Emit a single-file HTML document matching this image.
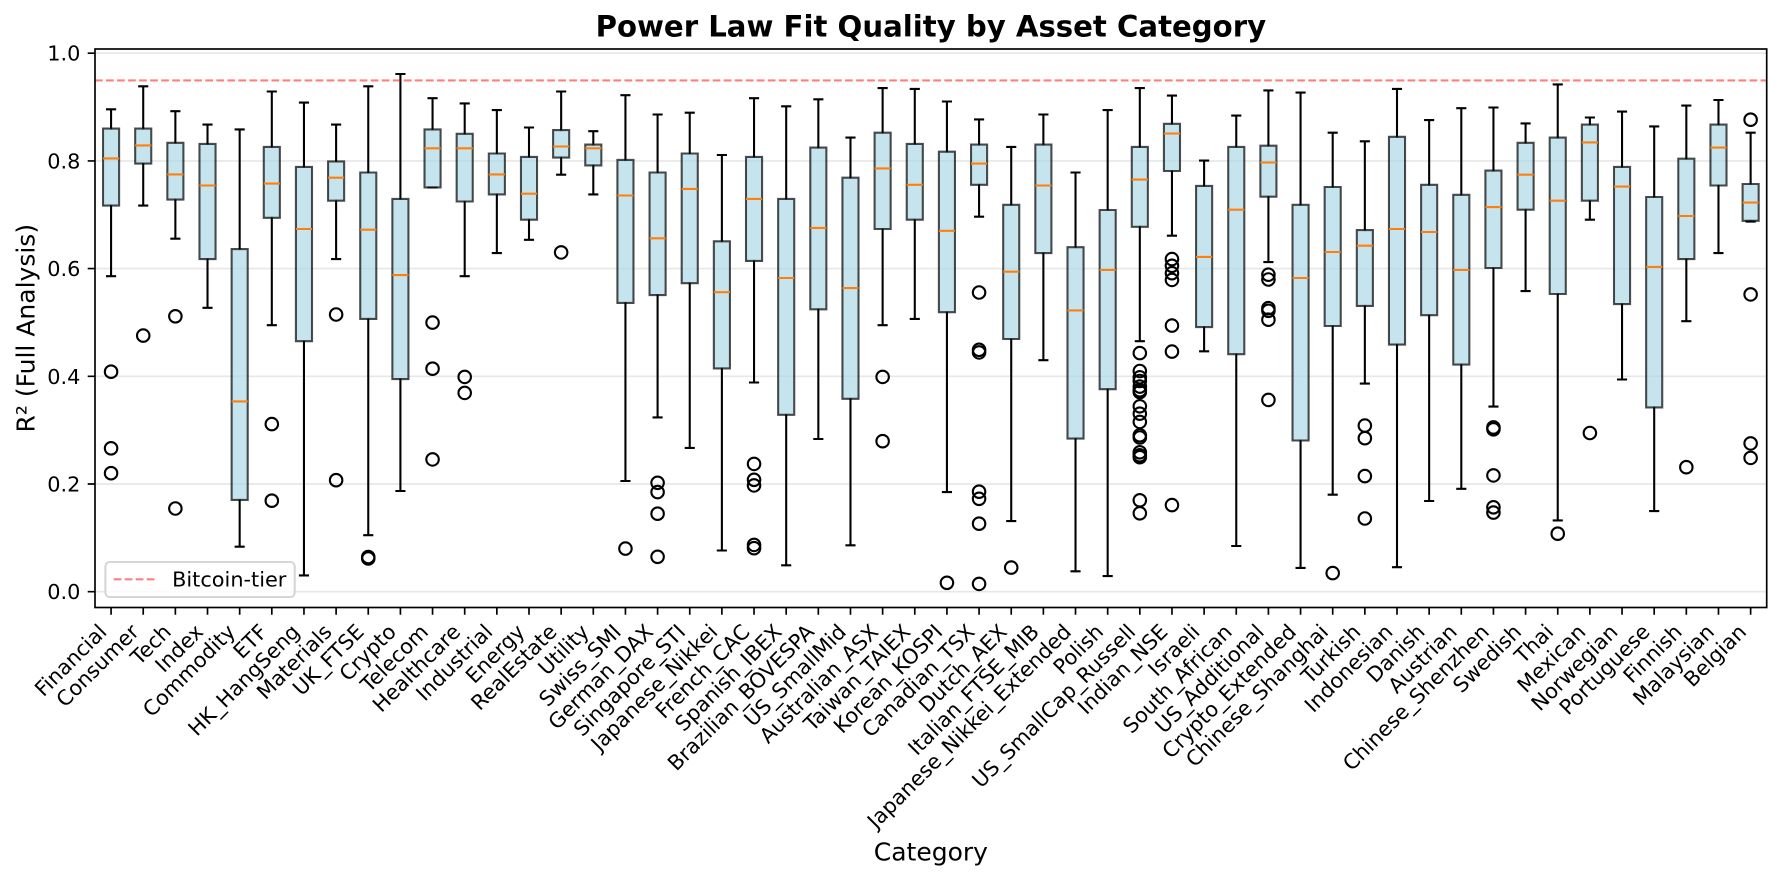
<!DOCTYPE html>
<html><head><meta charset="utf-8"><style>
html,body{margin:0;padding:0;background:#fff}
svg{display:block}
text{font-family:"DejaVu Sans","Liberation Sans",sans-serif;fill:#000}
.w{stroke:#000;stroke-width:2.08;fill:none;stroke-linecap:square}
.b{fill:#add8e6;fill-opacity:.7;stroke:#000;stroke-opacity:.7;stroke-width:2.08}
.m{stroke:#ff7f0e;stroke-width:2.08;fill:none}
circle{fill:none;stroke:#000;stroke-width:2.08}
.g{stroke:#b0b0b0;stroke-opacity:.3;stroke-width:1.67}
.tk{stroke:#000;stroke-width:1.67}
.xl{font-size:20.83px}
</style></head><body>
<svg width="1782" height="881" viewBox="0 0 1782 881" xmlns="http://www.w3.org/2000/svg">
<rect width="1782" height="881" fill="#fff"/>
<!-- grid -->
<path class="g" d="M95 591.7H1766.7M95 484H1766.7M95 376.3H1766.7M95 268.6H1766.7M95 160.9H1766.7M95 53.2H1766.7"/>
<!-- boxes -->
<g transform="translate(111.07)"><path class="w" d="M0 205.6V276.2M-4.02 276.2H4.02M0 128.6V109.3M-4.02 109.3H4.02"/><path class="b" d="M-8.04 128.6H8.04V205.6H-8.04Z"/><path class="m" d="M-8.04 158.4H8.04"/><circle cy="371.7" r="6.25"/><circle cy="448.3" r="6.25"/><circle cy="473.2" r="6.25"/></g>
<g transform="translate(143.22)"><path class="w" d="M0 163.6V205.6M-4.02 205.6H4.02M0 128.6V86.3M-4.02 86.3H4.02"/><path class="b" d="M-8.04 128.6H8.04V163.6H-8.04Z"/><path class="m" d="M-8.04 145.4H8.04"/><circle cy="335.6" r="6.25"/></g>
<g transform="translate(175.37)"><path class="w" d="M0 199.6V238.7M-4.02 238.7H4.02M0 142.8V111.2M-4.02 111.2H4.02"/><path class="b" d="M-8.04 142.8H8.04V199.6H-8.04Z"/><path class="m" d="M-8.04 174.4H8.04"/><circle cy="316.3" r="6.25"/><circle cy="508.5" r="6.25"/></g>
<g transform="translate(207.52)"><path class="w" d="M0 259.1V307.8M-4.02 307.8H4.02M0 143.9V124.6M-4.02 124.6H4.02"/><path class="b" d="M-8.04 143.9H8.04V259.1H-8.04Z"/><path class="m" d="M-8.04 185.5H8.04"/></g>
<g transform="translate(239.67)"><path class="w" d="M0 499.9V546.7M-4.02 546.7H4.02M0 249.1V129.4M-4.02 129.4H4.02"/><path class="b" d="M-8.04 249.1H8.04V499.9H-8.04Z"/><path class="m" d="M-8.04 401.4H8.04"/></g>
<g transform="translate(271.81)"><path class="w" d="M0 217.8V325.2M-4.02 325.2H4.02M0 146.9V91.5M-4.02 91.5H4.02"/><path class="b" d="M-8.04 146.9H8.04V217.8H-8.04Z"/><path class="m" d="M-8.04 183.6H8.04"/><circle cy="424.1" r="6.25"/><circle cy="500.7" r="6.25"/></g>
<g transform="translate(303.96)"><path class="w" d="M0 341.2V575.4M-4.02 575.4H4.02M0 166.9V102.6M-4.02 102.6H4.02"/><path class="b" d="M-8.04 166.9H8.04V341.2H-8.04Z"/><path class="m" d="M-8.04 229H8.04"/></g>
<g transform="translate(336.11)"><path class="w" d="M0 200.7V259.1M-4.02 259.1H4.02M0 161.4V124.6M-4.02 124.6H4.02"/><path class="b" d="M-8.04 161.4H8.04V200.7H-8.04Z"/><path class="m" d="M-8.04 177.7H8.04"/><circle cy="314.5" r="6.25"/><circle cy="480.2" r="6.25"/></g>
<g transform="translate(368.26)"><path class="w" d="M0 318.9V535.2M-4.02 535.2H4.02M0 172.5V86.3M-4.02 86.3H4.02"/><path class="b" d="M-8.04 172.5H8.04V318.9H-8.04Z"/><path class="m" d="M-8.04 229.7H8.04"/><circle cy="557" r="6.25"/><circle cy="558.5" r="6.25"/></g>
<g transform="translate(400.41)"><path class="w" d="M0 379.1V491M-4.02 491H4.02M0 198.9V74M-4.02 74H4.02"/><path class="b" d="M-8.04 198.9H8.04V379.1H-8.04Z"/><path class="m" d="M-8.04 275.1H8.04"/></g>
<g transform="translate(432.55)"><path class="w" d="M0 187.4V187.4M-4.02 187.4H4.02M0 129.4V98.2M-4.02 98.2H4.02"/><path class="b" d="M-8.04 129.4H8.04V187.4H-8.04Z"/><path class="m" d="M-8.04 148.3H8.04"/><circle cy="322.6" r="6.25"/><circle cy="368.7" r="6.25"/><circle cy="459.4" r="6.25"/></g>
<g transform="translate(464.70)"><path class="w" d="M0 201.5V276.2M-4.02 276.2H4.02M0 133.8V103.4M-4.02 103.4H4.02"/><path class="b" d="M-8.04 133.8H8.04V201.5H-8.04Z"/><path class="m" d="M-8.04 148.3H8.04"/><circle cy="376.9" r="6.25"/><circle cy="392.9" r="6.25"/></g>
<g transform="translate(496.85)"><path class="w" d="M0 194.4V253.1M-4.02 253.1H4.02M0 153.5V110.1M-4.02 110.1H4.02"/><path class="b" d="M-8.04 153.5H8.04V194.4H-8.04Z"/><path class="m" d="M-8.04 174.4H8.04"/></g>
<g transform="translate(529.00)"><path class="w" d="M0 219.7V239.8M-4.02 239.8H4.02M0 156.9V127.5M-4.02 127.5H4.02"/><path class="b" d="M-8.04 156.9H8.04V219.7H-8.04Z"/><path class="m" d="M-8.04 193.7H8.04"/></g>
<g transform="translate(561.15)"><path class="w" d="M0 157.6V174.7M-4.02 174.7H4.02M0 130.1V91.5M-4.02 91.5H4.02"/><path class="b" d="M-8.04 130.1H8.04V157.6H-8.04Z"/><path class="m" d="M-8.04 146.5H8.04"/><circle cy="252.4" r="6.25"/></g>
<g transform="translate(593.30)"><path class="w" d="M0 165.4V194.4M-4.02 194.4H4.02M0 144.6V131.2M-4.02 131.2H4.02"/><path class="b" d="M-8.04 144.6H8.04V165.4H-8.04Z"/><path class="m" d="M-8.04 148.3H8.04"/></g>
<g transform="translate(625.44)"><path class="w" d="M0 302.9V481M-4.02 481H4.02M0 159.9V95.2M-4.02 95.2H4.02"/><path class="b" d="M-8.04 159.9H8.04V302.9H-8.04Z"/><path class="m" d="M-8.04 195.5H8.04"/><circle cy="548.6" r="6.25"/></g>
<g transform="translate(657.59)"><path class="w" d="M0 295.1V417.4M-4.02 417.4H4.02M0 172.5V114.5M-4.02 114.5H4.02"/><path class="b" d="M-8.04 172.5H8.04V295.1H-8.04Z"/><path class="m" d="M-8.04 238.3H8.04"/><circle cy="482.8" r="6.25"/><circle cy="492.1" r="6.25"/><circle cy="513.7" r="6.25"/><circle cy="556.8" r="6.25"/></g>
<g transform="translate(689.74)"><path class="w" d="M0 283.2V447.9M-4.02 447.9H4.02M0 153.5V112.7M-4.02 112.7H4.02"/><path class="b" d="M-8.04 153.5H8.04V283.2H-8.04Z"/><path class="m" d="M-8.04 188.9H8.04"/></g>
<g transform="translate(721.89)"><path class="w" d="M0 368.4V550.5M-4.02 550.5H4.02M0 241.3V155M-4.02 155H4.02"/><path class="b" d="M-8.04 241.3H8.04V368.4H-8.04Z"/><path class="m" d="M-8.04 292.2H8.04"/></g>
<g transform="translate(754.04)"><path class="w" d="M0 260.9V382.5M-4.02 382.5H4.02M0 156.9V98.2M-4.02 98.2H4.02"/><path class="b" d="M-8.04 156.9H8.04V260.9H-8.04Z"/><path class="m" d="M-8.04 198.9H8.04"/><circle cy="463.9" r="6.25"/><circle cy="479.8" r="6.25"/><circle cy="485.4" r="6.25"/><circle cy="544.9" r="6.25"/><circle cy="548.2" r="6.25"/></g>
<g transform="translate(786.19)"><path class="w" d="M0 414.8V565.3M-4.02 565.3H4.02M0 198.9V106.3M-4.02 106.3H4.02"/><path class="b" d="M-8.04 198.9H8.04V414.8H-8.04Z"/><path class="m" d="M-8.04 278H8.04"/></g>
<g transform="translate(818.33)"><path class="w" d="M0 309.3V439M-4.02 439H4.02M0 147.6V99.3M-4.02 99.3H4.02"/><path class="b" d="M-8.04 147.6H8.04V309.3H-8.04Z"/><path class="m" d="M-8.04 227.9H8.04"/></g>
<g transform="translate(850.48)"><path class="w" d="M0 398.8V545.3M-4.02 545.3H4.02M0 177.7V137.6M-4.02 137.6H4.02"/><path class="b" d="M-8.04 177.7H8.04V398.8H-8.04Z"/><path class="m" d="M-8.04 288.1H8.04"/></g>
<g transform="translate(882.63)"><path class="w" d="M0 229V325.2M-4.02 325.2H4.02M0 132.7V88.1M-4.02 88.1H4.02"/><path class="b" d="M-8.04 132.7H8.04V229H-8.04Z"/><path class="m" d="M-8.04 168.4H8.04"/><circle cy="376.9" r="6.25"/><circle cy="441.2" r="6.25"/></g>
<g transform="translate(914.78)"><path class="w" d="M0 219.7V318.9M-4.02 318.9H4.02M0 143.9V88.9M-4.02 88.9H4.02"/><path class="b" d="M-8.04 143.9H8.04V219.7H-8.04Z"/><path class="m" d="M-8.04 184.8H8.04"/></g>
<g transform="translate(946.93)"><path class="w" d="M0 312.2V492.1M-4.02 492.1H4.02M0 151.7V101.5M-4.02 101.5H4.02"/><path class="b" d="M-8.04 151.7H8.04V312.2H-8.04Z"/><path class="m" d="M-8.04 230.8H8.04"/><circle cy="582.8" r="6.25"/></g>
<g transform="translate(979.07)"><path class="w" d="M0 184.8V216.7M-4.02 216.7H4.02M0 144.6V119.4M-4.02 119.4H4.02"/><path class="b" d="M-8.04 144.6H8.04V184.8H-8.04Z"/><path class="m" d="M-8.04 163.6H8.04"/><circle cy="292.5" r="6.25"/><circle cy="349.8" r="6.25"/><circle cy="352.4" r="6.25"/><circle cy="491.7" r="6.25"/><circle cy="498.8" r="6.25"/><circle cy="523.7" r="6.25"/><circle cy="583.9" r="6.25"/></g>
<g transform="translate(1011.22)"><path class="w" d="M0 339V521.1M-4.02 521.1H4.02M0 204.8V146.9M-4.02 146.9H4.02"/><path class="b" d="M-8.04 204.8H8.04V339H-8.04Z"/><path class="m" d="M-8.04 271.7H8.04"/><circle cy="567.6" r="6.25"/></g>
<g transform="translate(1043.37)"><path class="w" d="M0 253.1V360.2M-4.02 360.2H4.02M0 144.6V114.5M-4.02 114.5H4.02"/><path class="b" d="M-8.04 144.6H8.04V253.1H-8.04Z"/><path class="m" d="M-8.04 185.5H8.04"/></g>
<g transform="translate(1075.52)"><path class="w" d="M0 438.6V571.3M-4.02 571.3H4.02M0 247.2V172.5M-4.02 172.5H4.02"/><path class="b" d="M-8.04 247.2H8.04V438.6H-8.04Z"/><path class="m" d="M-8.04 310.4H8.04"/></g>
<g transform="translate(1107.67)"><path class="w" d="M0 389.2V576.1M-4.02 576.1H4.02M0 210V110.1M-4.02 110.1H4.02"/><path class="b" d="M-8.04 210H8.04V389.2H-8.04Z"/><path class="m" d="M-8.04 269.9H8.04"/></g>
<g transform="translate(1139.82)"><path class="w" d="M0 226.8V341.2M-4.02 341.2H4.02M0 146.9V88.1M-4.02 88.1H4.02"/><path class="b" d="M-8.04 146.9H8.04V226.8H-8.04Z"/><path class="m" d="M-8.04 179.6H8.04"/><circle cy="353.1" r="6.25"/><circle cy="371" r="6.25"/><circle cy="377.3" r="6.25"/><circle cy="381" r="6.25"/><circle cy="386.6" r="6.25"/><circle cy="390.3" r="6.25"/><circle cy="392.1" r="6.25"/><circle cy="406.3" r="6.25"/><circle cy="413.7" r="6.25"/><circle cy="421.9" r="6.25"/><circle cy="435.3" r="6.25"/><circle cy="437.5" r="6.25"/><circle cy="452.3" r="6.25"/><circle cy="455.3" r="6.25"/><circle cy="457.2" r="6.25"/><circle cy="500.3" r="6.25"/><circle cy="513.3" r="6.25"/></g>
<g transform="translate(1171.96)"><path class="w" d="M0 171V235.7M-4.02 235.7H4.02M0 123.8V95.6M-4.02 95.6H4.02"/><path class="b" d="M-8.04 123.8H8.04V171H-8.04Z"/><path class="m" d="M-8.04 133.5H8.04"/><circle cy="259.1" r="6.25"/><circle cy="265.8" r="6.25"/><circle cy="273.2" r="6.25"/><circle cy="279.9" r="6.25"/><circle cy="325.6" r="6.25"/><circle cy="351.6" r="6.25"/><circle cy="505.1" r="6.25"/></g>
<g transform="translate(1204.11)"><path class="w" d="M0 327.1V351.3M-4.02 351.3H4.02M0 185.9V160.6M-4.02 160.6H4.02"/><path class="b" d="M-8.04 185.9H8.04V327.1H-8.04Z"/><path class="m" d="M-8.04 256.9H8.04"/></g>
<g transform="translate(1236.26)"><path class="w" d="M0 354.2V546M-4.02 546H4.02M0 146.9V115.6M-4.02 115.6H4.02"/><path class="b" d="M-8.04 146.9H8.04V354.2H-8.04Z"/><path class="m" d="M-8.04 209.7H8.04"/></g>
<g transform="translate(1268.41)"><path class="w" d="M0 196.7V262.1M-4.02 262.1H4.02M0 145.7V90.4M-4.02 90.4H4.02"/><path class="b" d="M-8.04 145.7H8.04V196.7H-8.04Z"/><path class="m" d="M-8.04 162.5H8.04"/><circle cy="274.7" r="6.25"/><circle cy="279.5" r="6.25"/><circle cy="308.2" r="6.25"/><circle cy="310.8" r="6.25"/><circle cy="319.7" r="6.25"/><circle cy="399.9" r="6.25"/></g>
<g transform="translate(1300.56)"><path class="w" d="M0 440.5V567.9M-4.02 567.9H4.02M0 204.8V92.6M-4.02 92.6H4.02"/><path class="b" d="M-8.04 204.8H8.04V440.5H-8.04Z"/><path class="m" d="M-8.04 278H8.04"/></g>
<g transform="translate(1332.70)"><path class="w" d="M0 326V494.7M-4.02 494.7H4.02M0 187V132.7M-4.02 132.7H4.02"/><path class="b" d="M-8.04 187H8.04V326H-8.04Z"/><path class="m" d="M-8.04 252H8.04"/><circle cy="573.1" r="6.25"/></g>
<g transform="translate(1364.85)"><path class="w" d="M0 305.9V383.6M-4.02 383.6H4.02M0 230.1V141.3M-4.02 141.3H4.02"/><path class="b" d="M-8.04 230.1H8.04V305.9H-8.04Z"/><path class="m" d="M-8.04 245.7H8.04"/><circle cy="425.6" r="6.25"/><circle cy="438.2" r="6.25"/><circle cy="476.1" r="6.25"/><circle cy="518.5" r="6.25"/></g>
<g transform="translate(1397.00)"><path class="w" d="M0 344.6V567.2M-4.02 567.2H4.02M0 136.8V88.9M-4.02 88.9H4.02"/><path class="b" d="M-8.04 136.8H8.04V344.6H-8.04Z"/><path class="m" d="M-8.04 229H8.04"/></g>
<g transform="translate(1429.15)"><path class="w" d="M0 315.2V501M-4.02 501H4.02M0 184.8V120.1M-4.02 120.1H4.02"/><path class="b" d="M-8.04 184.8H8.04V315.2H-8.04Z"/><path class="m" d="M-8.04 232H8.04"/></g>
<g transform="translate(1461.30)"><path class="w" d="M0 364.6V488.8M-4.02 488.8H4.02M0 194.8V108.2M-4.02 108.2H4.02"/><path class="b" d="M-8.04 194.8H8.04V364.6H-8.04Z"/><path class="m" d="M-8.04 269.9H8.04"/></g>
<g transform="translate(1493.44)"><path class="w" d="M0 268V406.6M-4.02 406.6H4.02M0 170.6V107.5M-4.02 107.5H4.02"/><path class="b" d="M-8.04 170.6H8.04V268H-8.04Z"/><path class="m" d="M-8.04 207.1H8.04"/><circle cy="427.4" r="6.25"/><circle cy="429.3" r="6.25"/><circle cy="475.4" r="6.25"/><circle cy="507.3" r="6.25"/><circle cy="512.6" r="6.25"/></g>
<g transform="translate(1525.59)"><path class="w" d="M0 209.7V291.1M-4.02 291.1H4.02M0 142.8V123.4M-4.02 123.4H4.02"/><path class="b" d="M-8.04 142.8H8.04V209.7H-8.04Z"/><path class="m" d="M-8.04 174.7H8.04"/></g>
<g transform="translate(1557.74)"><path class="w" d="M0 294V520.4M-4.02 520.4H4.02M0 137.6V84.4M-4.02 84.4H4.02"/><path class="b" d="M-8.04 137.6H8.04V294H-8.04Z"/><path class="m" d="M-8.04 200.7H8.04"/><circle cy="533.7" r="6.25"/></g>
<g transform="translate(1589.89)"><path class="w" d="M0 200.7V219.7M-4.02 219.7H4.02M0 124.6V117.5M-4.02 117.5H4.02"/><path class="b" d="M-8.04 124.6H8.04V200.7H-8.04Z"/><path class="m" d="M-8.04 142.4H8.04"/><circle cy="433" r="6.25"/></g>
<g transform="translate(1622.04)"><path class="w" d="M0 304.1V379.5M-4.02 379.5H4.02M0 166.9V111.6M-4.02 111.6H4.02"/><path class="b" d="M-8.04 166.9H8.04V304.1H-8.04Z"/><path class="m" d="M-8.04 186.6H8.04"/></g>
<g transform="translate(1654.19)"><path class="w" d="M0 407.4V511.1M-4.02 511.1H4.02M0 197V126.4M-4.02 126.4H4.02"/><path class="b" d="M-8.04 197H8.04V407.4H-8.04Z"/><path class="m" d="M-8.04 266.9H8.04"/></g>
<g transform="translate(1686.33)"><path class="w" d="M0 259.1V321.2M-4.02 321.2H4.02M0 158.7V105.6M-4.02 105.6H4.02"/><path class="b" d="M-8.04 158.7H8.04V259.1H-8.04Z"/><path class="m" d="M-8.04 216H8.04"/><circle cy="467.2" r="6.25"/></g>
<g transform="translate(1718.48)"><path class="w" d="M0 185.5V253.1M-4.02 253.1H4.02M0 124.6V100M-4.02 100H4.02"/><path class="b" d="M-8.04 124.6H8.04V185.5H-8.04Z"/><path class="m" d="M-8.04 147.6H8.04"/></g>
<g transform="translate(1750.63)"><path class="w" d="M0 220.8V221.6M-4.02 221.6H4.02M0 184V132.7M-4.02 132.7H4.02"/><path class="b" d="M-8.04 184H8.04V220.8H-8.04Z"/><path class="m" d="M-8.04 202.6H8.04"/><circle cy="119.7" r="6.25"/><circle cy="294.4" r="6.25"/><circle cy="443.4" r="6.25"/><circle cy="457.9" r="6.25"/></g>
<!-- bitcoin-tier line -->
<path d="M95 80.4H1766.7" stroke="#ff0000" stroke-opacity="0.5" stroke-width="2.08" stroke-dasharray="7.7 3.33" fill="none"/>
<!-- axes frame -->
<rect x="95" y="49" width="1671.7" height="558.5" fill="none" stroke="#000" stroke-width="1.67"/>
<!-- y ticks -->
<path class="tk" d="M95 591.7H87.7M95 484H87.7M95 376.3H87.7M95 268.6H87.7M95 160.9H87.7M95 53.2H87.7"/>
<g class="xl" text-anchor="end">
<text x="80.4" y="599.2">0.0</text>
<text x="80.4" y="491.5">0.2</text>
<text x="80.4" y="383.8">0.4</text>
<text x="80.4" y="276.1">0.6</text>
<text x="80.4" y="168.4">0.8</text>
<text x="80.4" y="60.7">1.0</text>
</g>
<!-- x ticks -->
<path class="tk" d="M111.07 607.5v7.3M143.22 607.5v7.3M175.37 607.5v7.3M207.52 607.5v7.3M239.67 607.5v7.3M271.81 607.5v7.3M303.96 607.5v7.3M336.11 607.5v7.3M368.26 607.5v7.3M400.41 607.5v7.3M432.55 607.5v7.3M464.70 607.5v7.3M496.85 607.5v7.3M529.00 607.5v7.3M561.15 607.5v7.3M593.30 607.5v7.3M625.44 607.5v7.3M657.59 607.5v7.3M689.74 607.5v7.3M721.89 607.5v7.3M754.04 607.5v7.3M786.19 607.5v7.3M818.33 607.5v7.3M850.48 607.5v7.3M882.63 607.5v7.3M914.78 607.5v7.3M946.93 607.5v7.3M979.07 607.5v7.3M1011.22 607.5v7.3M1043.37 607.5v7.3M1075.52 607.5v7.3M1107.67 607.5v7.3M1139.82 607.5v7.3M1171.96 607.5v7.3M1204.11 607.5v7.3M1236.26 607.5v7.3M1268.41 607.5v7.3M1300.56 607.5v7.3M1332.70 607.5v7.3M1364.85 607.5v7.3M1397.00 607.5v7.3M1429.15 607.5v7.3M1461.30 607.5v7.3M1493.44 607.5v7.3M1525.59 607.5v7.3M1557.74 607.5v7.3M1589.89 607.5v7.3M1622.04 607.5v7.3M1654.19 607.5v7.3M1686.33 607.5v7.3M1718.48 607.5v7.3M1750.63 607.5v7.3"/>
<g class="xl" text-anchor="end" transform="translate(-3.06,633.1)">
<text transform="translate(111.07) rotate(-45)">Financial</text>
<text transform="translate(143.22) rotate(-45)">Consumer</text>
<text transform="translate(175.37) rotate(-45)">Tech</text>
<text transform="translate(207.52) rotate(-45)">Index</text>
<text transform="translate(239.67) rotate(-45)">Commodity</text>
<text transform="translate(271.81) rotate(-45)">ETF</text>
<text transform="translate(303.96) rotate(-45)">HK_HangSeng</text>
<text transform="translate(336.11) rotate(-45)">Materials</text>
<text transform="translate(368.26) rotate(-45)">UK_FTSE</text>
<text transform="translate(400.41) rotate(-45)">Crypto</text>
<text transform="translate(432.55) rotate(-45)">Telecom</text>
<text transform="translate(464.70) rotate(-45)">Healthcare</text>
<text transform="translate(496.85) rotate(-45)">Industrial</text>
<text transform="translate(529.00) rotate(-45)">Energy</text>
<text transform="translate(561.15) rotate(-45)">RealEstate</text>
<text transform="translate(593.30) rotate(-45)">Utility</text>
<text transform="translate(625.44) rotate(-45)">Swiss_SMI</text>
<text transform="translate(657.59) rotate(-45)">German_DAX</text>
<text transform="translate(689.74) rotate(-45)">Singapore_STI</text>
<text transform="translate(721.89) rotate(-45)">Japanese_Nikkei</text>
<text transform="translate(754.04) rotate(-45)">French_CAC</text>
<text transform="translate(786.19) rotate(-45)">Spanish_IBEX</text>
<text transform="translate(818.33) rotate(-45)">Brazilian_BOVESPA</text>
<text transform="translate(850.48) rotate(-45)">US_SmallMid</text>
<text transform="translate(882.63) rotate(-45)">Australian_ASX</text>
<text transform="translate(914.78) rotate(-45)">Taiwan_TAIEX</text>
<text transform="translate(946.93) rotate(-45)">Korean_KOSPI</text>
<text transform="translate(979.07) rotate(-45)">Canadian_TSX</text>
<text transform="translate(1011.22) rotate(-45)">Dutch_AEX</text>
<text transform="translate(1043.37) rotate(-45)">Italian_FTSE_MIB</text>
<text transform="translate(1075.52) rotate(-45)">Japanese_Nikkei_Extended</text>
<text transform="translate(1107.67) rotate(-45)">Polish</text>
<text transform="translate(1139.82) rotate(-45)">US_SmallCap_Russell</text>
<text transform="translate(1171.96) rotate(-45)">Indian_NSE</text>
<text transform="translate(1204.11) rotate(-45)">Israeli</text>
<text transform="translate(1236.26) rotate(-45)">South_African</text>
<text transform="translate(1268.41) rotate(-45)">US_Additional</text>
<text transform="translate(1300.56) rotate(-45)">Crypto_Extended</text>
<text transform="translate(1332.70) rotate(-45)">Chinese_Shanghai</text>
<text transform="translate(1364.85) rotate(-45)">Turkish</text>
<text transform="translate(1397.00) rotate(-45)">Indonesian</text>
<text transform="translate(1429.15) rotate(-45)">Danish</text>
<text transform="translate(1461.30) rotate(-45)">Austrian</text>
<text transform="translate(1493.44) rotate(-45)">Chinese_Shenzhen</text>
<text transform="translate(1525.59) rotate(-45)">Swedish</text>
<text transform="translate(1557.74) rotate(-45)">Thai</text>
<text transform="translate(1589.89) rotate(-45)">Mexican</text>
<text transform="translate(1622.04) rotate(-45)">Norwegian</text>
<text transform="translate(1654.19) rotate(-45)">Portuguese</text>
<text transform="translate(1686.33) rotate(-45)">Finnish</text>
<text transform="translate(1718.48) rotate(-45)">Malaysian</text>
<text transform="translate(1750.63) rotate(-45)">Belgian</text>
</g>
<!-- legend -->
<rect x="105.4" y="562" width="189.3" height="35" rx="4.2" ry="4.2" fill="#fff" fill-opacity="0.8" stroke="#cccccc" stroke-opacity="0.8" stroke-width="2.08"/>
<path d="M113.7 579.3H155.4" stroke="#ff0000" stroke-opacity="0.5" stroke-width="2.08" stroke-dasharray="7.7 3.33" fill="none"/>
<text class="xl" x="172.1" y="586.6">Bitcoin-tier</text>
<!-- labels -->
<text x="930.85" y="36.5" text-anchor="middle" style="font-size:29.17px;font-weight:bold">Power Law Fit Quality by Asset Category</text>
<text x="930.85" y="860.4" text-anchor="middle" style="font-size:25px">Category</text>
<text transform="translate(34.5,328.2) rotate(-90)" text-anchor="middle" style="font-size:25px">R² (Full Analysis)</text>
</svg>
</body></html>
